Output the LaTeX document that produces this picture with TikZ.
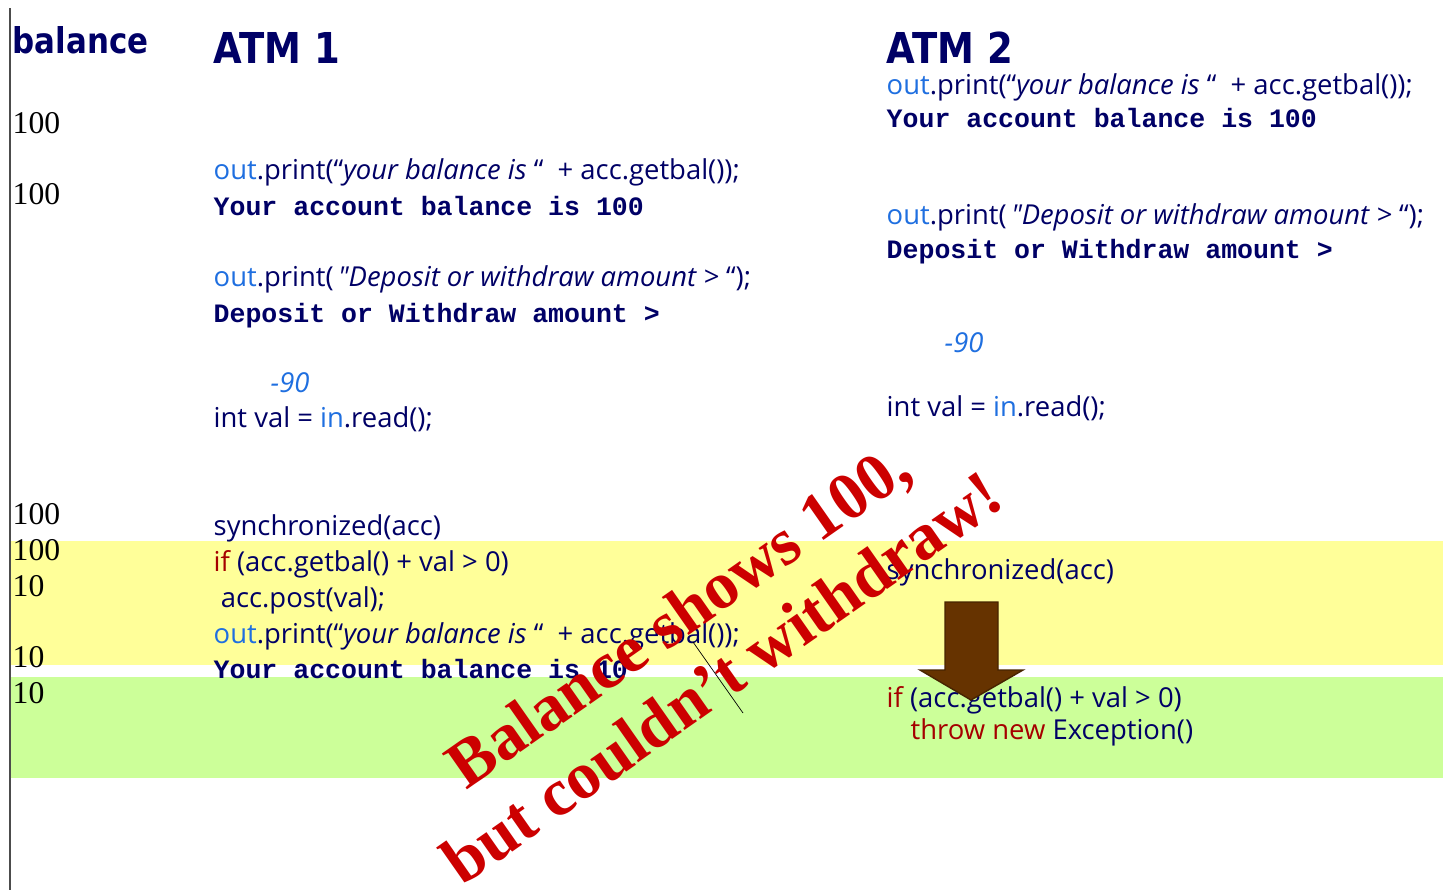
\documentclass[tikz,border=0pt]{standalone}
\usepackage{fontspec}
\usepackage{xcolor}
\usepackage{tikz}
\usetikzlibrary{positioning}

\setmainfont{Liberation Serif}
\newfontfamily\codefont{Open Sans}
\newfontfamily\ttyfont{Liberation Mono}
\newfontfamily\headfont{DejaVu Sans}[FakeStretch=0.87]

\definecolor{navy}{HTML}{000066}
\definecolor{codeblue}{HTML}{1F6FE0}
\definecolor{kwred}{HTML}{A50000}
\definecolor{stampred}{HTML}{CC0000}
\definecolor{bandyellow}{HTML}{FFFF99}
\definecolor{bandgreen}{HTML}{CCFF99}
\definecolor{arrowbrown}{HTML}{663300}

% highlighted bits inside a code line
\newcommand{\bl}[1]{\textcolor{codeblue}{#1}}
\newcommand{\kw}[1]{\textcolor{kwred}{#1}}

\begin{document}
\begin{tikzpicture}[
    x=0.01cm, y=-0.01cm,
    head/.style={anchor=base west, inner sep=0pt, text=navy, font=\headfont\bfseries\fontsize{12.1}{14}\selectfont},
    bal/.style={anchor=west, inner sep=0pt, font=\fontsize{9}{11}\selectfont},
    code/.style={anchor=west, inner sep=0pt, text height=0.75em, text depth=0.25em, text=navy, font=\codefont\fontsize{7.8}{9}\selectfont},
    tty/.style={anchor=west, inner sep=0pt, text height=0.75em, text depth=0.25em, text=navy, font=\ttyfont\bfseries\fontsize{7.55}{9}\selectfont},
    stamp/.style={align=center, text=stampred, font=\bfseries\fontsize{19}{21.6}\selectfont}
]
\useasboundingbox[fill=white] (0,0) rectangle (1443,890);

% highlighted time slices
\fill[bandyellow] (11,541) rectangle (1443,665);
\fill[bandgreen] (11,677) rectangle (1443,778);
\draw[gray!60!black] (10,8) -- (10,890);

% column titles
\node[head, font=\headfont\bfseries\fontsize{10.1}{12}\selectfont] (baltitle) at (12,53) {balance};
\node[head] (atm1) at (213,63) {ATM 1};
\node[head] (atm2) at (886,63) {ATM 2};

% balance column
\foreach \y/\v [count=\i] in {123/100,194/100,514/100,550/100,586/10,657/10,693/10}
    \node[bal] (b\i) at (12,\y) {\v};

% ATM 1
\node[code] (p1) at (213,171) {\bl{out}.print(“\textit{your balance is} “ \ + acc.getbal());};
\node[tty] (o1) at (213,207) {Your account balance is 100};
\node[code] (p2) at (213,278) {\bl{out}.print(\,\textit{"Deposit or withdraw amount >} “);};
\node[tty] (o2) at (213,314) {Deposit or Withdraw amount >};
\node[code] (in1) at (270,384) {\bl{\textit{-90}}};
\node[code] (rd1) at (213,419) {int val = \bl{in}.read();};
\node[code] (sy1) at (213,527) {synchronized(acc)};
\node[code] (if1) at (213,563) {\kw{if} (acc.getbal() + val > 0)};
\node[code] (ps1) at (213,599) {\ acc.post(val);};
\node[code] (p3) at (213,635) {\bl{out}.print(“\textit{your balance is} “ \ + acc.getbal());};
\node[tty] (o3) at (213,670) {Your account balance is 10};

% ATM 2
\node[code] (p4) at (886,86) {\bl{out}.print(“\textit{your balance is} “ \ + acc.getbal());};
\node[tty] (o4) at (886,119) {Your account balance is 100};
\node[code] (p5) at (886,216) {\bl{out}.print(\,\textit{"Deposit or withdraw amount >} “);};
\node[tty] (o5) at (886,250) {Deposit or Withdraw amount >};
\node[code] (in2) at (944,344) {\bl{\textit{-90}}};
\node[code] (rd2) at (886,408) {int val = \bl{in}.read();};
\node[code] (sy2) at (886,571) {synchronized(acc)};
\node[code] (if2) at (886,699) {\kw{if} (acc.getbal() + val > 0)};
\node[code] (th2) at (910,731) {\kw{throw new} Exception()};

% blocked until ATM 1 leaves the monitor
\draw[arrowbrown!70!black, fill=arrowbrown] (945,602) -- (998,602) -- (998,670) -- (1023,670)
    -- (971,700) -- (920,670) -- (945,670) -- cycle;

\node[stamp, rotate=35] (warn) at (700,646) {Balance shows 100,\\but couldn’t withdraw!};

\coordinate (m1) at (693,642);
\coordinate (m2) at (743,713);
\draw[very thin] (m1) -- (m2);
\end{tikzpicture}
\end{document}
